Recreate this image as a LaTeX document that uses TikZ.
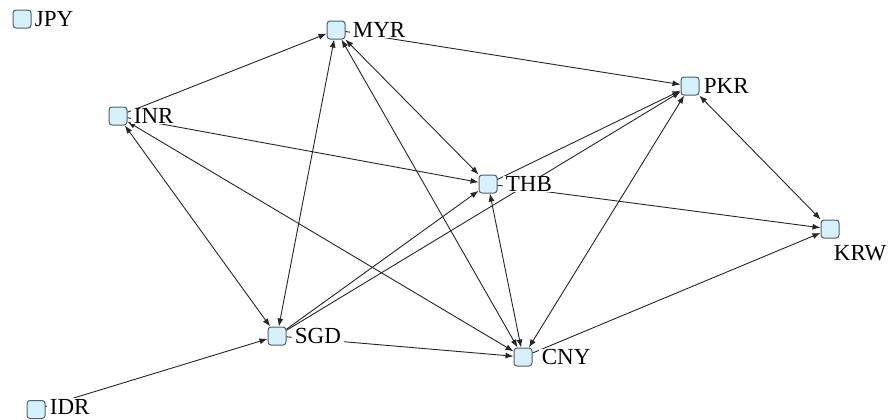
\documentclass[tikz,border=0pt]{standalone}
\usepackage{fontspec}
\setmainfont{Liberation Serif}
\usetikzlibrary{arrows.meta}
\definecolor{boxfill}{HTML}{D6F1FB}
\definecolor{boxline}{HTML}{4F5F6B}
\begin{document}
\begin{tikzpicture}[x=0.5pt,y=-0.5pt]
\tikzstyle{every node}+=[inner sep=0pt]
\tikzstyle{cur}=[draw=boxline,fill=boxfill,rounded corners=1.5pt,minimum size=9pt,line width=0.5pt]
\tikzstyle{lbl}=[fill=white,inner xsep=1.5pt,inner ysep=0.3pt,font=\fontsize{11.5}{13}\selectfont]
\tikzstyle{link}=[black!85,line width=0.45pt,-{Latex[length=4pt,width=3pt]}]
\tikzstyle{both}=[black!85,line width=0.45pt,{Latex[length=4pt,width=3pt]}-{Latex[length=4pt,width=3pt]}]
\useasboundingbox (0,0) rectangle (891,419);
\node [cur] (JPY) at (22,19) {};
\node [cur] (MYR) at (336,30) {};
\node [cur] (INR) at (118,116) {};
\node [cur] (PKR) at (690,86) {};
\node [cur] (THB) at (488,184) {};
\node [cur] (KRW) at (830,229) {};
\node [cur] (SGD) at (277,336) {};
\node [cur] (CNY) at (523,357) {};
\node [cur] (IDR) at (36,409.5) {};
\draw [link] (INR) -- (MYR);
\draw [link] (INR) -- (THB);
\draw [both] (INR) -- (SGD);
\draw [both] (INR) -- (CNY);
\draw [link] (MYR) -- (PKR);
\draw [both] (MYR) -- (SGD);
\draw [both] (MYR) -- (THB);
\draw [both] (MYR) -- (CNY);
\draw [link] (THB) -- (PKR);
\draw [link] (THB) -- (KRW);
\draw [both] (THB) -- (CNY);
\draw [link] (SGD) -- (THB);
\draw [link] (SGD) -- (PKR);
\draw [link] (SGD) -- (CNY);
\draw [link] (IDR) -- (SGD);
\draw [both] (CNY) -- (PKR);
\draw [both] (PKR) -- (KRW);
\draw [link] (CNY) -- (KRW);
\node [lbl,anchor=west] (JPYl) at (JPY.east) {JPY};
\node [lbl,anchor=west] (MYRl) at ([xshift=2pt]MYR.east) {MYR};
\node [lbl,anchor=west] (INRl) at ([xshift=1.5pt]INR.east) {INR};
\node [lbl,anchor=west] (PKRl) at ([xshift=0.5pt]PKR.east) {PKR};
\node [lbl,anchor=west] (THBl) at ([xshift=2.5pt]THB.east) {THB};
\node [lbl,anchor=west] (SGDl) at ([xshift=2.5pt]SGD.east) {SGD};
\node [lbl,anchor=west] (CNYl) at ([xshift=3pt]CNY.east) {CNY};
\node [lbl,anchor=west] (IDRl) at ([xshift=0.5pt,yshift=1.5pt]IDR.east) {IDR};
\node [lbl,anchor=north west] (KRWl) at ([xshift=5pt,yshift=-3pt]KRW.south west) {KRW};
\end{tikzpicture}
\end{document}
